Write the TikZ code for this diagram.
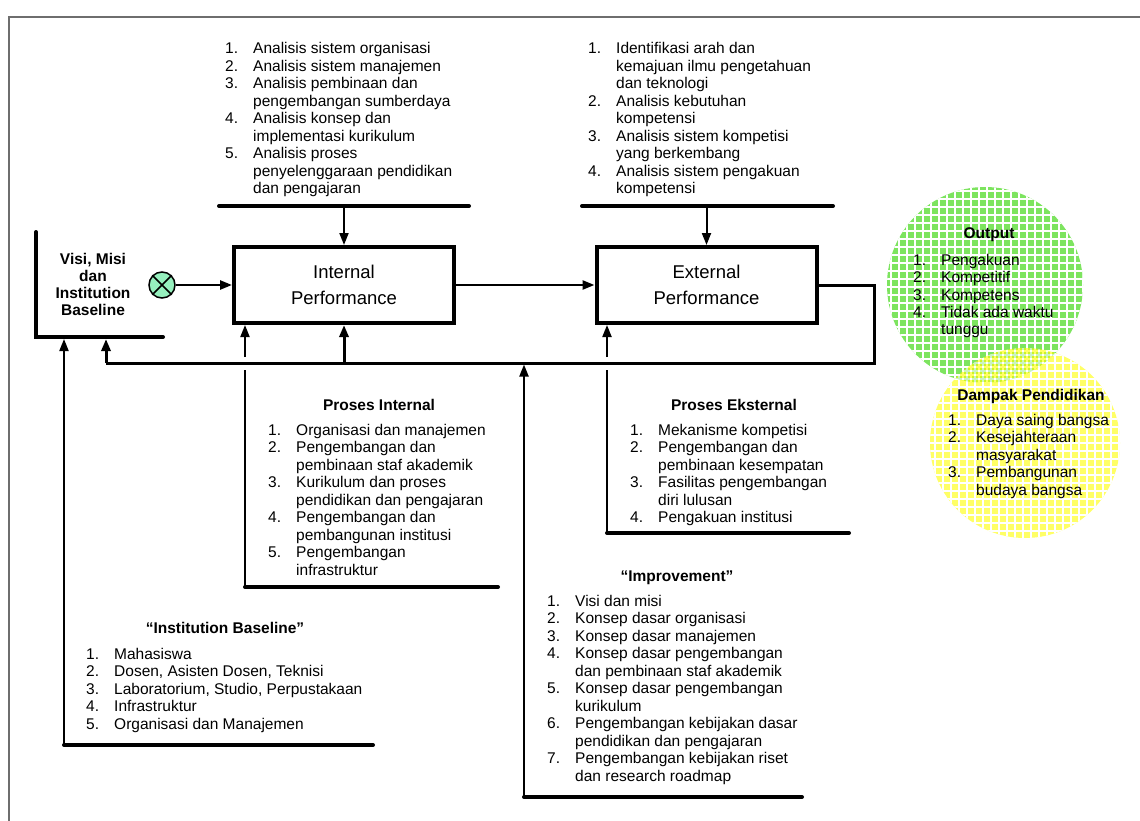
\documentclass[tikz,border=0pt]{standalone}
\usepackage{fontspec}
\setmainfont{Liberation Sans}
\usetikzlibrary{arrows.meta}
\newcommand\fs{\fontsize{15.5}{17.5}\selectfont}
\newcommand\nm[1]{\makebox[28pt][l]{#1}}
\newcommand\lst[1]{\begin{tabular}[t]{@{}l@{}}#1\end{tabular}}
\newcommand\ctr[1]{\begin{tabular}[t]{@{}c@{}}#1\end{tabular}}
\definecolor{mint}{RGB}{150,240,190}
\definecolor{gcol}{RGB}{125,228,95}
\definecolor{ycol}{RGB}{255,255,0}
\definecolor{framec}{RGB}{110,110,110}
\begin{document}
\begin{tikzpicture}[x=1pt,y=-1pt,
  lstn/.style={anchor=base west, inner sep=0pt, font=\fs},
  ttl/.style={anchor=base, inner sep=0pt, font=\fs\bfseries},
  pbox/.style={draw, line width=4pt, minimum width=220pt, minimum height=76pt, align=center, inner sep=0pt, font=\fontsize{18.5}{26}\selectfont},
  thk/.style={line width=4pt, line cap=round},
  med/.style={line width=3pt},
  thn/.style={line width=2pt},
  arr/.style={-{Triangle[length=12pt,width=9pt]}},
  grid/.style={white, line width=1.6pt}]
\useasboundingbox (0,0) rectangle (1140,821);

% output circles
\begin{scope}
  \clip (985,285) circle (98);
  \fill[gcol] (880,180) rectangle (1090,390);
  \foreach \k in {0,...,26}{
    \draw[grid] ({883+8*\k},180) -- ++(0,210);
    \draw[grid] (880,{183+8*\k}) -- ++(210,0);
  }
\end{scope}
\begin{scope}[transparency group, opacity=0.6]
  \clip (1025,443) circle (95);
  \fill[ycol] (925,343) rectangle (1125,543);
  \foreach \k in {0,...,26}{
    \draw[grid] ({927+8*\k},343) -- ++(0,200);
    \draw[grid] (925,{347+8*\k}) -- ++(200,0);
  }
\end{scope}

% frame
\draw[framec, line width=2pt] (9,821) -- (9,17) -- (1140,17);

% Visi bracket
\coordinate (va) at (36,232);
\coordinate (vb) at (36,337);
\coordinate (vc) at (163,337);
\draw[thk] (va) -- (vb) -- (vc);
\node[ttl] (visi) at (93,264.5) {\ctr{Visi, Misi\\[-0.5pt]dan\\[-0.5pt]Institution\\[-0.5pt]Baseline}};

% summing junction
\node[circle, draw, line width=1.5pt, fill=mint, minimum size=26pt, inner sep=0pt] (sj) at (162,285) {};
\draw[line width=1.5pt] (sj.north west) -- (sj.south east) (sj.north east) -- (sj.south west);

% boxes
\node[pbox] (int) at (344,285) {Internal\\Performance};
\node[pbox] (ext) at (706.5,285) {External\\Performance};
\draw[line width=2.5pt, arr] (sj.east) -- (int.west);
\draw[line width=2.5pt, arr] (int.east) -- (ext.west);

% top list 1
\node[lstn] (l1) at (225,54) {\lst{%
\nm{1.}Analisis sistem organisasi\\
\nm{2.}Analisis sistem manajemen\\
\nm{3.}Analisis pembinaan dan\\
\nm{}pengembangan sumberdaya\\
\nm{4.}Analisis konsep dan\\
\nm{}implementasi kurikulum\\
\nm{5.}Analisis proses\\
\nm{}penyelenggaraan pendidikan\\
\nm{}dan pengajaran}};
\coordinate (t1a) at (219,206);
\coordinate (t1b) at (469,206);
\draw[thk] (t1a) -- (t1b);
\draw[thn, arr] (int.north |- t1a) -- (int.north);

% top list 2
\node[lstn] (l2) at (588,54) {\lst{%
\nm{1.}Identifikasi arah dan\\
\nm{}kemajuan ilmu pengetahuan\\
\nm{}dan teknologi\\
\nm{2.}Analisis kebutuhan\\
\nm{}kompetensi\\
\nm{3.}Analisis sistem kompetisi\\
\nm{}yang berkembang\\
\nm{4.}Analisis sistem pengakuan\\
\nm{}kompetensi}};
\coordinate (t2a) at (582,206);
\coordinate (t2b) at (833,206);
\draw[thk] (t2a) -- (t2b);
\draw[thn, arr] (ext.north |- t2a) -- (ext.north);

% feedback loop
\coordinate (fr) at (874,285);
\coordinate (fb) at (874,363);
\coordinate (fl) at (106,363);
\draw[med] (ext.east) -- (fr) -- (fb) -- (fl);
\draw[med, arr] (fl) -- (106,339);
\draw[med, arr] (int.south |- fl) -- (int.south);

% Proses Internal
\coordinate (pia) at (245,370);
\coordinate (pib) at (245,587);
\coordinate (pic) at (498,587);
\draw[thn] (pia) -- (pib);
\draw[thk] (pib) -- (pic);
\draw[thn, arr] (245,357) -- (int.south -| pia);
\node[ttl] (pit) at (379,410.5) {Proses Internal};
\node[lstn] (pil) at (268,435) {\lst{%
\nm{1.}Organisasi dan manajemen\\
\nm{2.}Pengembangan dan\\
\nm{}pembinaan staf akademik\\
\nm{3.}Kurikulum dan proses\\
\nm{}pendidikan dan pengajaran\\
\nm{4.}Pengembangan dan\\
\nm{}pembangunan institusi\\
\nm{5.}Pengembangan\\
\nm{}infrastruktur}};

% Proses Eksternal
\coordinate (pea) at (607,370);
\coordinate (peb) at (607,533);
\coordinate (pec) at (849,533);
\draw[thn] (pea) -- (peb);
\draw[thk] (peb) -- (pec);
\draw[thn, arr] (607,357) -- (ext.south -| pea);
\node[ttl] (pet) at (734,410.5) {Proses Eksternal};
\node[lstn] (pel) at (630,435) {\lst{%
\nm{1.}Mekanisme kompetisi\\
\nm{2.}Pengembangan dan\\
\nm{}pembinaan kesempatan\\
\nm{3.}Fasilitas pengembangan\\
\nm{}diri lulusan\\
\nm{4.}Pengakuan institusi}};

% Improvement
\coordinate (ima) at (524,797);
\coordinate (imb) at (802,797);
\draw[thk] (ima) -- (imb);
\draw[thn, arr] (ima) -- (524,364.5);
\node[ttl] (imt) at (677,581) {“Improvement”};
\node[lstn] (iml) at (547,606) {\lst{%
\nm{1.}Visi dan misi\\
\nm{2.}Konsep dasar organisasi\\
\nm{3.}Konsep dasar manajemen\\
\nm{4.}Konsep dasar pengembangan\\
\nm{}dan pembinaan staf akademik\\
\nm{5.}Konsep dasar pengembangan\\
\nm{}kurikulum\\
\nm{6.}Pengembangan kebijakan dasar\\
\nm{}pendidikan dan pengajaran\\
\nm{7.}Pengembangan kebijakan riset\\
\nm{}dan research roadmap}};

% Institution Baseline
\coordinate (iba) at (64,745);
\coordinate (ibb) at (373,745);
\draw[thk] (iba) -- (ibb);
\draw[thn, arr] (iba) -- (64,339);
\node[ttl] (ibt) at (225,633.5) {“Institution Baseline”};
\node[lstn] (ibl) at (86,659) {\lst{%
\nm{1.}Mahasiswa\\
\nm{2.}Dosen, Asisten Dosen, Teknisi\\
\nm{3.}Laboratorium, Studio, Perpustakaan\\
\nm{4.}Infrastruktur\\
\nm{5.}Organisasi dan Manajemen}};

% Output
\node[ttl] (ot) at (989,238.5) {Output};
\node[lstn] (ol) at (913,265) {\lst{%
\nm{1.}Pengakuan\\
\nm{2.}Kompetitif\\
\nm{3.}Kompetens\\
\nm{4.}Tidak ada waktu\\
\nm{}tunggu}};

% Dampak
\node[ttl] (dt) at (1031,400.5) {Dampak Pendidikan};
\node[lstn] (dl) at (948,425) {\lst{%
\nm{1.}Daya saing bangsa\\
\nm{2.}Kesejahteraan\\
\nm{}masyarakat\\
\nm{3.}Pembangunan\\
\nm{}budaya bangsa}};
\end{tikzpicture}
\end{document}
